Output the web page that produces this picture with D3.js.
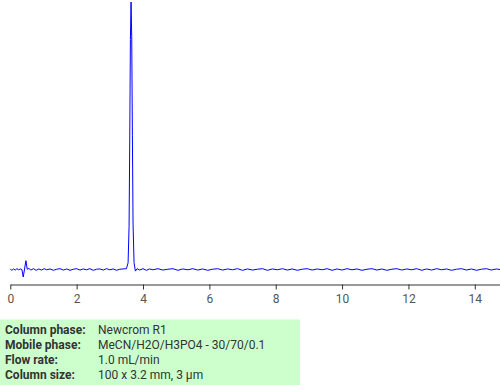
<!DOCTYPE html>
<html>
<head>
<meta charset="utf-8">
<script src="https://cdn.jsdelivr.net/npm/d3@7"></script>
<style>
  body { margin: 0; background: #fff; }
  svg { display: block; font-family: Roboto, sans-serif; }
</style>
</head>
<body>
<div id="chart"></div>
<script>
// chromatogram trace: retention time (min) and detector signal (peak = 100)
var times = [
  0.00, 0.05, 0.10, 0.15, 0.20, 0.25, 0.30, 0.35, 0.39, 0.43, 0.47, 0.51, 0.56,
  0.62, 0.70, 0.78, 0.86, 0.94, 1.02, 1.10, 1.20, 1.30, 1.40, 1.50, 1.60, 1.70,
  1.80, 1.90, 2.00, 2.10, 2.20, 2.30, 2.40, 2.50, 2.60, 2.70, 2.80, 2.90, 3.00,
  3.10, 3.20, 3.30, 3.40, 3.50, 3.55, 3.58, 3.60, 3.62, 3.64, 3.66, 3.68, 3.70,
  3.73, 3.77, 3.82, 3.90, 4.00, 4.10, 4.20, 4.30, 4.45, 4.60, 4.75, 4.90, 5.05,
  5.20, 5.35, 5.50, 5.65, 5.80, 5.95, 6.10, 6.25, 6.40, 6.55, 6.70, 6.85, 7.00,
  7.15, 7.30, 7.45, 7.60, 7.75, 7.90, 8.05, 8.20, 8.35, 8.50, 8.65, 8.80, 8.95,
  9.10, 9.25, 9.40, 9.55, 9.70, 9.85, 10.00, 10.15, 10.30, 10.45, 10.60, 10.75,
  10.90, 11.05, 11.20, 11.35, 11.50, 11.65, 11.80, 11.95, 12.10, 12.25, 12.40,
  12.55, 12.70, 12.85, 13.00, 13.15, 13.30, 13.45, 13.60, 13.75, 13.90, 14.05,
  14.20, 14.35, 14.50, 14.65, 14.76
];
var signal = [
  0.1, -0.3, 0.2, -0.2, 0.3, -0.1, 0.2, 0.0, -2.8, 0.2, 3.3, 0.1, 0.4,
  -0.2, 0.3, -0.3, 0.2, -0.2, 0.3, -0.1, 0.2, -0.3, 0.1, 0.3, -0.2, 0.2,
  -0.3, 0.1, 0.3, -0.2, 0.2, -0.1, 0.3, -0.3, 0.1, 0.2, -0.2, 0.3, -0.1,
  0.2, -0.3, 0.1, 0.2, 0.3, 2.5, 16, 48, 86, 100, 87, 50, 17,
  2.5, -0.6, 0.3, -0.2, 0.3, -0.3, 0.2, -0.1, 0.3, -0.2, 0.1, 0.3, -0.3,
  0.2, -0.1, 0.3, -0.2, 0.2, -0.3, 0.1, 0.3, -0.2, 0.2, -0.1, 0.3, -0.3,
  0.2, -0.2, 0.1, 0.3, -0.3, 0.2, -0.1, 0.3, -0.2, 0.2, -0.3, 0.1, 0.3,
  -0.2, 0.2, -0.1, 0.3, -0.3, 0.2, -0.2, 0.3, -0.1, 0.2, -0.3, 0.1,
  0.3, -0.2, 0.2, -0.3, 0.1, 0.3, -0.2, 0.2, -0.1, 0.3, -0.3,
  0.2, -0.2, 0.3, -0.1, 0.2, -0.3, 0.1, 0.3, -0.2, 0.2, -0.3,
  0.1, 0.3, -0.2, 0.2, 0.0
];
var xTicks = [0, 2, 4, 6, 8, 10, 12, 14];
var infoLabels = ["Column phase:", "Mobile phase:", "Flow rate:", "Column size:"];
var infoValues = ["Newcrom R1", "MeCN/H2O/H3PO4 - 30/70/0.1", "1.0 mL/min", "100 x 3.2 mm, 3 \u00b5m"];

function plotChrom() {
    var width = 500,
        height = 385;

    var svg = d3.select("#chart").append("svg")
        .attr("width", width)
        .attr("height", height);

    var x = d3.scaleLinear()
        .domain([0, 14.76])
        .range([10.3, 500]);

    var y = d3.scaleLinear()
        .domain([0, 100])
        .range([269.5, 2]);

    var data = times.map(function(t, i) {
        return { t: t, v: signal[i] };
    });

    var line = d3.line()
        .x(function(d) { return x(d.t); })
        .y(function(d) { return y(d.v); });

    // x axis
    var axis = svg.append("g")
        .attr("transform", "translate(0,284.5)")
        .call(d3.axisBottom(x).tickValues(xTicks).tickSize(5).tickSizeOuter(0).tickFormat(d3.format("d")));
    axis.select(".domain").attr("stroke", "#333");
    axis.selectAll(".tick line").attr("stroke", "#333");
    axis.selectAll(".tick text")
        .attr("fill", "#555")
        .attr("font-size", "12px")
        .attr("font-family", "Roboto, sans-serif")
        .attr("dy", "0.9em");

    svg.append("path")
        .datum(data)
        .attr("fill", "none")
        .attr("stroke", "#0000ff")
        .attr("stroke-width", 1)
        .attr("d", line);

    // method info box
    svg.append("rect")
        .attr("x", 0)
        .attr("y", 319.5)
        .attr("width", 300)
        .attr("height", 65.5)
        .attr("fill", "#ccffcc");

    var rows = svg.selectAll(".info")
        .data(infoLabels)
        .enter().append("g")
        .attr("class", "info")
        .attr("transform", function(d, i) {
            return "translate(0," + (334 + i * 15) + ")";
        })
        .style("font-size", "12px")
        .style("fill", "#333");

    rows.append("text")
        .attr("x", 5)
        .attr("font-weight", "bold")
        .text(function(d) { return d; });

    rows.append("text")
        .attr("x", 98)
        .text(function(d, i) { return infoValues[i]; });
}

plotChrom();
</script>
</body>
</html>
